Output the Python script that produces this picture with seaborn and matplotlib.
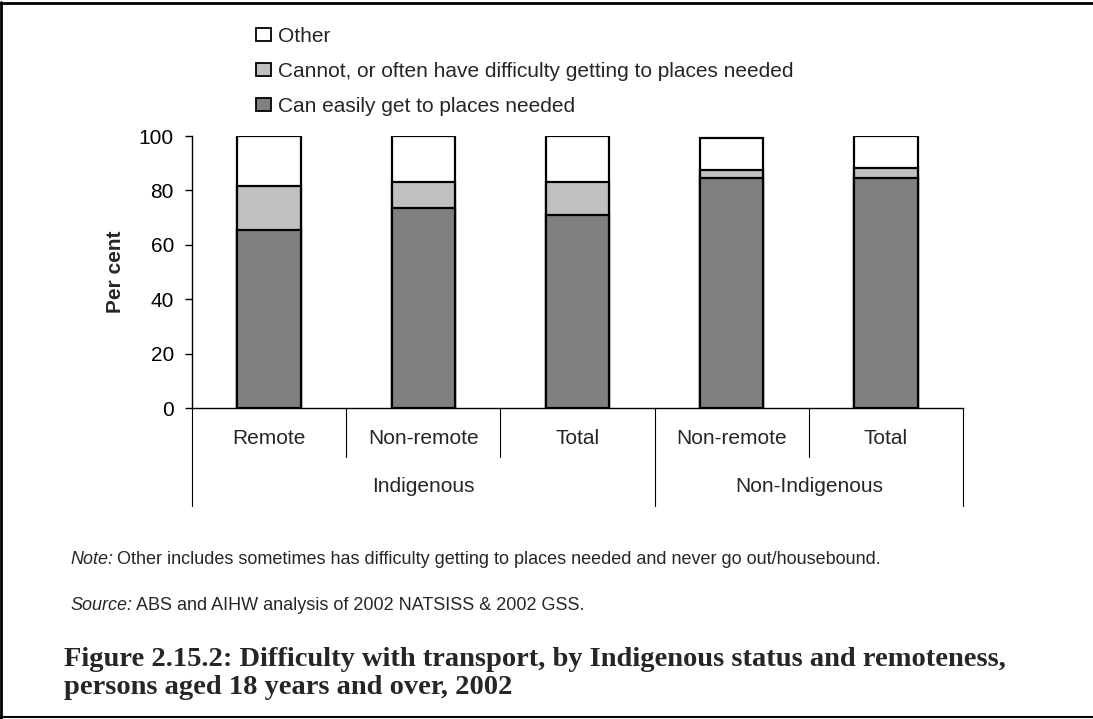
import matplotlib
matplotlib.use("Agg")
import matplotlib.pyplot as plt
from matplotlib.lines import Line2D
from matplotlib.patches import Patch
import seaborn as sns
import numpy as np
import pandas as pd

# ---- data ----
categories = ["Remote", "Non-remote", "Total", "Non-remote", "Total"]
groups = ["Indigenous", "Non-Indigenous"]
group_sizes = [3, 2]
easily = [65.4, 73.4, 71.1, 84.4, 84.4]
cannot = [16.1, 9.6, 11.9, 3.1, 3.8]
other = [18.5, 17.0, 17.0, 11.6, 11.8]
series_names = ["Other", "Cannot, or often have difficulty getting to places needed",
                "Can easily get to places needed"]
yticks = [0, 20, 40, 60, 80, 100]

sns.set_theme(style="white")
plt.rcParams['font.family'] = ['Liberation Sans', 'DejaVu Sans']

FS = 15
fig = plt.figure(figsize=(10.93, 7.19), dpi=100)
ax = fig.add_axes([192/1093, 1-408/719, (963-192)/1093, (408-136)/719])

xpos = list(range(len(categories)))
df = pd.DataFrame({
    "x": xpos,
    "top": np.array(easily) + np.array(cannot) + np.array(other),
    "mid": np.array(easily) + np.array(cannot),
    "low": np.array(easily),
})
colors = ["#ffffff", "#c0c0c0", "#808080"]
for col, c in zip(["top", "mid", "low"], colors):
    sns.barplot(data=df, x="x", y=col, color=c, edgecolor="black", linewidth=1.6,
                width=0.41, saturation=1, ax=ax, order=xpos)

ax.set_ylim(0, 100)
ax.set_xlim(-0.5, len(categories) - 0.5)
ax.set_yticks(yticks)
ax.set_yticklabels([str(t) for t in yticks], fontsize=FS)
ax.tick_params(axis="y", direction="out", length=5, width=1, pad=8, colors="black", left=True)
ax.set_xticks([])
ax.set_xlabel("")
ax.set_ylabel("Per cent", fontsize=FS, fontweight="bold", labelpad=10)
for s in ["top", "right"]:
    ax.spines[s].set_visible(False)
for s in ["left", "bottom"]:
    ax.spines[s].set_color("black")
    ax.spines[s].set_linewidth(1)

tr = ax.get_xaxis_transform()
# category labels
for i, lab in enumerate(categories):
    ax.text(i, -0.112, lab, transform=tr, ha="center", va="center", fontsize=FS)
# separators
bounds = [-0.5]
acc = -0.5
for g in group_sizes:
    acc += g
    bounds.append(acc)
for i in range(len(categories) + 1):
    b = i - 0.5
    y0 = -0.36 if b in bounds else -0.18
    ax.plot([b, b], [0, y0], transform=tr, color="black", lw=0.8, clip_on=False)
# group labels
start = 0
for g, n in zip(groups, group_sizes):
    ax.text(start + (n - 1) / 2, -0.29, g, transform=tr, ha="center", va="center", fontsize=FS)
    start += n

# legend
handles = [Patch(facecolor=c, edgecolor="black", linewidth=1.3) for c in colors]
fig.legend(handles, series_names, loc="upper left", bbox_to_anchor=(256/1093, 1-27/719),
           frameon=False, fontsize=FS, handlelength=0.7, handleheight=0.6,
           handletextpad=0.35, labelspacing=0.76, borderaxespad=0, borderpad=0)

# notes
NX = 70
TX = 64
fig.canvas.draw()
rend = fig.canvas.get_renderer()

def label_with_lead(y, lead, rest, fs):
    t1 = fig.text(NX/1093, y, lead, fontsize=fs, style="italic", va="center", ha="left")
    bb = t1.get_window_extent(renderer=rend)
    fig.text((bb.x1 + 4)/1093, y, rest, fontsize=fs, va="center", ha="left")

label_with_lead(1-560/719, "Note:",
                "Other includes sometimes has difficulty getting to places needed and never go out/housebound.", 13)
label_with_lead(1-606/719, "Source:", "ABS and AIHW analysis of 2002 NATSISS & 2002 GSS.", 13)
fig.text(TX/1093, 1-659/719, "Figure 2.15.2: Difficulty with transport, by Indigenous status and remoteness,",
         fontsize=20.5, fontweight="bold", family="Liberation Serif", va="center", ha="left")
fig.text(TX/1093, 1-688/719, "persons aged 18 years and over, 2002",
         fontsize=20.5, fontweight="bold", family="Liberation Serif", va="center", ha="left")

# frame lines
fig.add_artist(Line2D([0.001, 0.001], [0, 1-2/719], transform=fig.transFigure, color="black", lw=2))
fig.add_artist(Line2D([0, 1], [1-3/719, 1-3/719], transform=fig.transFigure, color="black", lw=2))
fig.add_artist(Line2D([0, 1], [1-717/719, 1-717/719], transform=fig.transFigure, color="black", lw=1.5))

fig.savefig("out.png", dpi=100, facecolor="white")
